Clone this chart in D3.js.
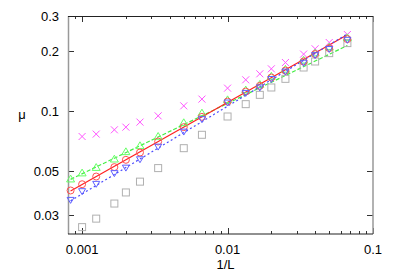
<!DOCTYPE html>
<html>
<head>
<meta charset="utf-8">
<script src="https://cdn.jsdelivr.net/npm/d3@7"></script>
<style>
  body { margin: 0; background: #fff; }
  text { font-family: "Liberation Sans", Arial, sans-serif; font-size: 13px; fill: #000; }
</style>
</head>
<body>
<div id="chart"></div>
<script>
// system sizes L, plotted as 1/L
var sizes = [1200, 1000, 800, 600, 500, 400, 300, 200, 150, 100, 75, 60, 50, 40, 30, 25, 20, 15];

// mu for each series (null = no point)
var muCircle = [0.0400, 0.0430, 0.0470, 0.0524, 0.0570, 0.0620, 0.0704, 0.0831, 0.0936, 0.1117,
                0.1254, 0.1339, 0.1474, 0.1598, 0.1774, 0.1932, 0.2070, 0.2297];
var muUp     = [0.0456, 0.0489, 0.0521, 0.0574, 0.0625, 0.0670, 0.0746, 0.0874, 0.0977, 0.1139,
                0.1275, 0.1360, 0.1495, 0.1620, 0.1800, 0.1955, 0.2095, 0.2330];
var muDown   = [0.0359, 0.0397, 0.0432, 0.0489, 0.0521, 0.0574, 0.0664, 0.0790, 0.0912, 0.1105,
                0.1235, 0.1315, 0.1450, 0.1580, 0.1750, 0.1910, 0.2050, 0.2280];
var muCross  = [null, 0.0746, 0.0767, 0.0806, 0.0831, 0.0881, 0.0947, 0.1063, 0.1149, 0.1304,
                0.1436, 0.1539, 0.1630, 0.1753, 0.1932, 0.2054, 0.2209, 0.2422];
var muSquare = [null, 0.0262, 0.0289, 0.0344, 0.0391, 0.0443, 0.0518, 0.0652, 0.0761, 0.0940,
                0.1084, 0.1207, 0.1314, 0.1452, 0.1655, 0.1774, 0.1954, 0.2194];

// power-law fits mu = A * (1/L)^b
var fitRed   = {A: 0.736, b: 0.4115};
var fitGreen = {A: 0.5546, b: 0.3527};
var fitBlue  = {A: 0.803, b: 0.44};

var xTicks = [0.001, 0.01, 0.1];
var yTicks = [0.03, 0.05, 0.1, 0.2, 0.3];

var margin = {top: 16, right: 26, bottom: 45, left: 68},
    width = 399 - margin.left - margin.right,
    height = 279 - margin.top - margin.bottom;

var svg = d3.select("#chart")
  .append("svg")
    .attr("width", 399)
    .attr("height", 279)
  .append("g")
    .attr("transform", "translate(" + margin.left + "," + margin.top + ")");

var x = d3.scaleLog().domain([0.0008, 0.1]).range([0, width]);
var y = d3.scaleLog().domain([0.0242, 0.3]).range([height, 0]);

// minor x ticks 2..9 per decade
var xMinor = [];
[0.0001, 0.001, 0.01].forEach(function(d) {
  for (var k = 2; k <= 9; k++) {
    var v = d * k;
    if (v >= 0.0008 && v < 0.1) xMinor.push(v);
  }
});

// ticks (inward, mirrored)
var tk = svg.append("g").attr("stroke", "#333").attr("stroke-width", 1);
xMinor.forEach(function(v) {
  var px = Math.round(x(v)) + 0.5;
  tk.append("line").attr("x1", px).attr("x2", px).attr("y1", height).attr("y2", height - 3);
  tk.append("line").attr("x1", px).attr("x2", px).attr("y1", 0).attr("y2", 3);
});
xTicks.forEach(function(v) {
  var px = Math.round(x(v)) + 0.5;
  tk.append("line").attr("x1", px).attr("x2", px).attr("y1", height).attr("y2", height - 6);
  tk.append("line").attr("x1", px).attr("x2", px).attr("y1", 0).attr("y2", 6);
});
yTicks.forEach(function(v) {
  var py = Math.round(y(v)) + 0.5;
  tk.append("line").attr("x1", 0).attr("x2", 6).attr("y1", py).attr("y2", py);
  tk.append("line").attr("x1", width).attr("x2", width - 6).attr("y1", py).attr("y2", py);
});

// border
svg.append("line").attr("x1", 0.5).attr("x2", 0.5).attr("y1", 0).attr("y2", height)
  .attr("stroke", "#999").attr("stroke-width", 1.5);
svg.append("line").attr("x1", width).attr("x2", width).attr("y1", 0).attr("y2", height)
  .attr("stroke", "#999").attr("stroke-width", 1.5);
svg.append("line").attr("x1", 0).attr("x2", width).attr("y1", 0.5).attr("y2", 0.5)
  .attr("stroke", "#222").attr("stroke-width", 1.2);
svg.append("line").attr("x1", 0).attr("x2", width).attr("y1", height).attr("y2", height)
  .attr("stroke", "#222").attr("stroke-width", 1.2);

// tick labels
svg.selectAll(".xl").data(xTicks).enter().append("text")
  .attr("x", function(d) { return x(d); })
  .attr("y", height + 20)
  .attr("text-anchor", "middle")
  .text(function(d) { return d; });
svg.selectAll(".yl").data(yTicks).enter().append("text")
  .attr("x", -9)
  .attr("y", function(d) { return y(d) + 5; })
  .attr("text-anchor", "end")
  .text(function(d) { return d; });

svg.append("text").attr("x", width / 2 + 5).attr("y", height + 35)
  .attr("text-anchor", "middle").text("1/L");
svg.append("text").attr("x", -46).attr("y", y(0.1) + 8)
  .attr("text-anchor", "middle").text("μ");

// fit lines over the data range
var xs = [1 / sizes[0], 1 / sizes[sizes.length - 1]];
function fitLine(f, color, dash) {
  svg.append("line")
    .attr("x1", x(xs[0])).attr("y1", y(f.A * Math.pow(xs[0], f.b)))
    .attr("x2", x(xs[1])).attr("y2", y(f.A * Math.pow(xs[1], f.b)))
    .attr("stroke", color).attr("stroke-width", 1.2)
    .attr("stroke-dasharray", dash);
}
fitLine(fitGreen, "#44ee44", "4,2");
fitLine(fitRed, "#ff2020", null);
fitLine(fitBlue, "#4a4aff", "2,2.5");

function pts(vals) {
  return sizes.map(function(L, i) { return {x: 1 / L, y: vals[i]}; })
    .filter(function(d) { return d.y != null; });
}

// squares
svg.selectAll(".sq").data(pts(muSquare)).enter().append("rect")
  .attr("x", function(d) { return x(d.x) - 3.5; })
  .attr("y", function(d) { return y(d.y) - 3.5; })
  .attr("width", 7).attr("height", 7)
  .attr("fill", "none").attr("stroke", "#b0b0b0").attr("stroke-width", 1);

// crosses
svg.selectAll(".cr").data(pts(muCross)).enter().append("path")
  .attr("d", function(d) {
    var cx = x(d.x), cy = y(d.y), r = 3.5;
    return "M" + (cx - r) + "," + (cy - r) + "L" + (cx + r) + "," + (cy + r) +
           "M" + (cx - r) + "," + (cy + r) + "L" + (cx + r) + "," + (cy - r);
  })
  .attr("stroke", "#ff55ff").attr("stroke-width", 1).attr("fill", "none");

// triangles up
svg.selectAll(".tu").data(pts(muUp)).enter().append("path")
  .attr("d", function(d) {
    var cx = x(d.x), cy = y(d.y), r = 4;
    return "M" + cx + "," + (cy - r) + "L" + (cx + r) + "," + (cy + r * 0.7) +
           "L" + (cx - r) + "," + (cy + r * 0.7) + "Z";
  })
  .attr("stroke", "#66ff66").attr("stroke-width", 1).attr("fill", "none");

// circles
svg.selectAll(".ci").data(pts(muCircle)).enter().append("circle")
  .attr("cx", function(d) { return x(d.x); })
  .attr("cy", function(d) { return y(d.y); })
  .attr("r", 3.5)
  .attr("fill", "none").attr("stroke", "#ff5050").attr("stroke-width", 1);

// triangles down
svg.selectAll(".td").data(pts(muDown)).enter().append("path")
  .attr("d", function(d) {
    var cx = x(d.x), cy = y(d.y), r = 3.5;
    return "M" + cx + "," + (cy + r) + "L" + (cx + r) + "," + (cy - r * 0.7) +
           "L" + (cx - r) + "," + (cy - r * 0.7) + "Z";
  })
  .attr("stroke", "#6060ff").attr("stroke-width", 1).attr("fill", "none");
</script>
</body>
</html>
